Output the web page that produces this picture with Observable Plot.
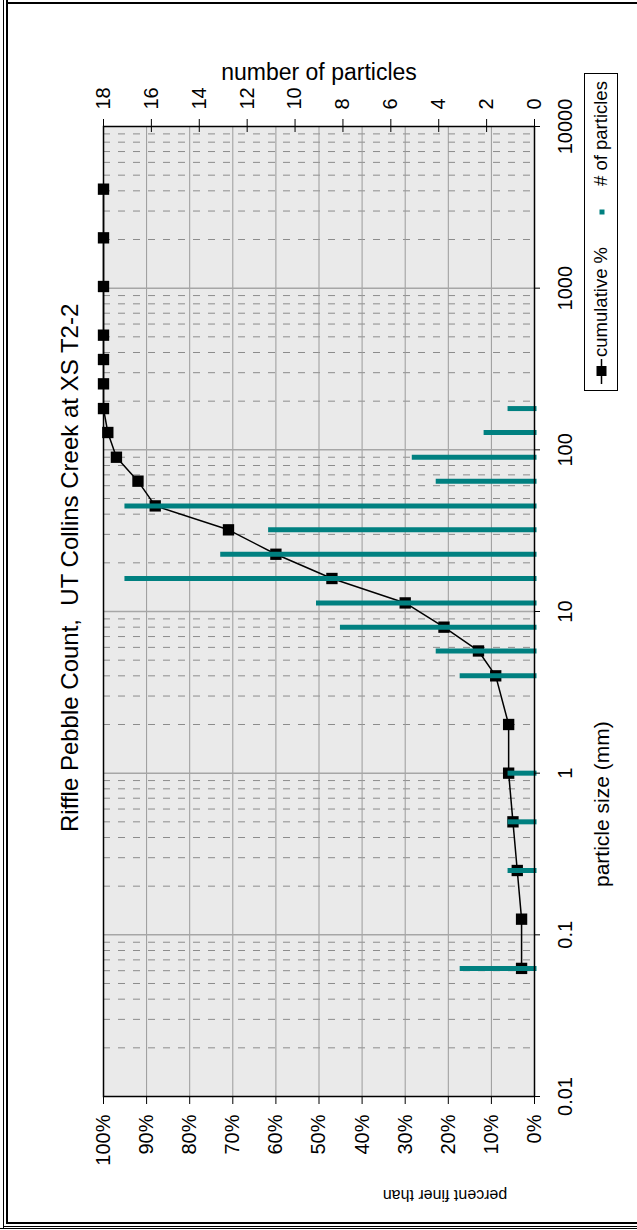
<!DOCTYPE html>
<html><head><meta charset="utf-8">
<script src="https://cdn.jsdelivr.net/npm/d3@7"></script>
<script src="https://cdn.jsdelivr.net/npm/@observablehq/plot@0.6"></script>
<style>
html,body{margin:0;padding:0;width:637px;height:1230px;overflow:hidden;background:#fff;}
#rot{position:absolute;left:0;top:0;width:1230px;height:637px;transform-origin:0 0;transform:translateY(1230px) rotate(-90deg);font-family:"Liberation Sans",Arial,sans-serif;color:#000;}
#rot svg{position:absolute;left:0;top:0;}
.lbl{position:absolute;white-space:nowrap;line-height:1;}
.b{position:absolute;background:#000;}
</style></head><body>
<div id="rot"></div>
<div class="b" style="left:3px;top:0;width:1px;height:1228px"></div>
<div class="b" style="left:6px;top:0;width:2px;height:1224px"></div>
<div class="b" style="left:6px;top:2px;width:631px;height:2px"></div>
<div class="b" style="left:6px;top:1222px;width:631px;height:2px"></div>
<div class="b" style="left:3px;top:1226px;width:634px;height:1px"></div>
<div class="b" style="left:0px;top:1228px;width:637px;height:1px"></div>
<script>
// particle size classes (mm), counts and cumulative percent finer
const sizes = [0.062, 0.125, 0.25, 0.5, 1, 2, 4, 5.7, 8, 11.3, 16, 22.6, 32, 45, 64, 90, 128, 180, 256, 362, 512, 1024, 2048, 4096];
const counts = [3, 0, 1, 1, 1, 0, 3, 4, 8, 9, 17, 13, 11, 17, 4, 5, 2, 1, 0, 0, 0, 0, 0, 0];
const cumulative = [3, 3, 4, 5, 6, 6, 9, 13, 21, 30, 47, 60, 71, 88, 92, 97, 99, 100, 100, 100, 100, 100, 100, 100];
const sizeTicks = [0.01, 0.1, 1, 10, 100, 1000, 10000];
const percentTicks = [0, 10, 20, 30, 40, 50, 60, 70, 80, 90, 100];
const countTicks = [0, 2, 4, 6, 8, 10, 12, 14, 16, 18];
const countMax = 18;

const data = sizes.map((s, i) => ({size: s, count: counts[i], pct: cumulative[i]}));
const toPct = c => c * 100 / countMax;
const minor = [];
for (let e = -2; e <= 3; e++) for (let m = 2; m <= 9; m++) minor.push(m * Math.pow(10, e));
const decades = sizeTicks.slice(1, -1);

const chart = Plot.plot({
  width: 1230, height: 637,
  marginLeft: 133, marginRight: 127, marginTop: 103, marginBottom: 103,
  style: {fontFamily: '"Liberation Sans",Arial,sans-serif', fontSize: "20px", color: "#000", background: "transparent", overflow: "visible"},
  x: {type: "log", domain: [0.01, 10000]},
  y: {domain: [0, 100]},
  marks: [
    Plot.frame({fill: "#eaeaea"}),
    Plot.ruleX(minor, {stroke: "#8c8c8c", strokeWidth: 1, strokeDasharray: "7,8"}),
    Plot.ruleY(percentTicks.filter(d => d > 0 && d < 100), {stroke: "#9a9a9a", strokeWidth: 1}),
    Plot.ruleX(decades, {stroke: "#a6a6a6", strokeWidth: 1.5}),
    Plot.line(data, {x: "size", y: "pct", stroke: "#000", strokeWidth: 1.5}),
    Plot.dot(data, {x: "size", y: "pct", symbol: "square", fill: "#000", r: 6.4}),
    Plot.ruleX(data.filter(d => d.count > 0), {x: "size", y1: 0, y2: d => toPct(d.count), stroke: "#008080", strokeWidth: 5, strokeLinecap: "square"}),
    Plot.frame({stroke: "#000", strokeWidth: 1.5}),
    Plot.axisX(sizeTicks, {anchor: "bottom", tickSize: 6, tickPadding: 17, tickFormat: d => String(d), label: null}),
    Plot.axisY(percentTicks, {anchor: "left", tickSize: 7, tickPadding: 11, tickFormat: d => d + "%", label: null}),
    Plot.axisY(countTicks.map(toPct), {anchor: "right", tickSize: 13, dx: -6, tickPadding: 10, tickFormat: d => String(Math.round(d * countMax / 100)), label: null})
  ]
});
const rot = document.getElementById("rot");
rot.appendChild(chart);

function addLabel(text, css) {
  const d = document.createElement("div");
  d.className = "lbl";
  d.textContent = text;
  Object.assign(d.style, css);
  rot.appendChild(d);
  return d;
}
addLabel("Riffle Pebble Count,  UT Collins Creek at XS T2-2", {left: "398px", top: "70px", fontSize: "24px", transform: "translateY(-50%)", whiteSpace: "pre"});
addLabel("number of particles", {left: "1158px", top: "319px", fontSize: "23px", transform: "translate(-50%,-50%) rotate(90deg)"});
addLabel("particle size (mm)", {left: "343px", top: "601px", fontSize: "21px", transform: "translateY(-50%)"});
addLabel("percent finer than", {left: "35px", top: "445px", fontSize: "16px", transform: "translate(-50%,-50%) rotate(-90deg)"});

// legend
const leg = document.createElement("div");
Object.assign(leg.style, {position: "absolute", left: "839px", top: "584px", width: "318px", height: "34px", border: "1px solid #000", boxSizing: "border-box", background: "#fff"});
leg.innerHTML = '<svg width="318" height="34" style="position:absolute;left:0;top:0">' +
  '<line x1="6" x2="31" y1="16.5" y2="16.5" stroke="#000" stroke-width="1.5"/>' +
  '<rect x="14" y="11.5" width="10" height="10" fill="#000"/>' +
  '<rect x="175.5" y="14.5" width="5" height="5" fill="#008080"/>' +
  '</svg>';
rot.appendChild(leg);
const t1 = document.createElement("div");
t1.className = "lbl"; t1.textContent = "cumulative %";
Object.assign(t1.style, {left: "33px", top: "16px", fontSize: "18.5px", transform: "translateY(-50%)"});
leg.appendChild(t1);
const t2 = document.createElement("div");
t2.className = "lbl"; t2.textContent = "# of particles";
Object.assign(t2.style, {left: "204px", top: "16px", fontSize: "18.5px", transform: "translateY(-50%)"});
leg.appendChild(t2);
</script>
</body></html>
